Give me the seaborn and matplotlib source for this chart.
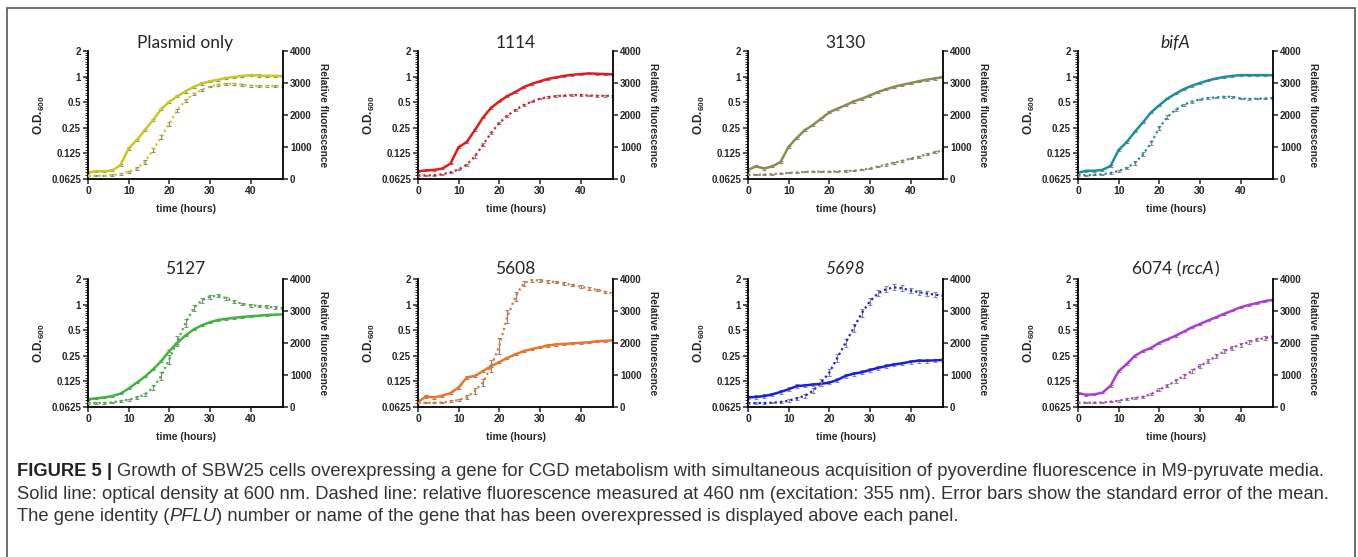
import numpy as np
import matplotlib
matplotlib.use('Agg')
import matplotlib.pyplot as plt
import matplotlib.ticker as mticker
from matplotlib.patches import Rectangle
import seaborn as sns

# time points (hours)
time_h = [0, 2, 4, 6, 8, 10, 12, 14, 16, 18, 20, 22, 24,
          26, 28, 30, 32, 34, 36, 38, 40, 42, 44, 46, 48]

# O.D.600 (solid lines) and relative fluorescence (dotted lines) per strain
od_plasmid = [0.075, 0.077, 0.077, 0.079, 0.091, 0.143, 0.179, 0.235, 0.308, 0.414, 0.504, 0.588, 0.67,
              0.757, 0.83, 0.88, 0.92, 0.965, 0.99, 1.02, 1.04, 1.03, 1.02, 1.02, 1.01]
fl_plasmid = [100, 100, 100, 125, 155, 230, 330, 540, 900, 1320, 1730, 2150, 2460,
              2660, 2790, 2890, 2950, 2975, 2975, 2950, 2920, 2900, 2900, 2900, 2910]
se_plasmid = [20, 20, 20, 20, 25, 30, 40, 60, 70, 70, 60, 50, 40,
              40, 30, 30, 30, 30, 30, 30, 30, 30, 30, 30, 30]

od_1114 = [0.077, 0.079, 0.080, 0.083, 0.095, 0.148, 0.17, 0.235, 0.33, 0.43, 0.51, 0.59, 0.66,
           0.75, 0.82, 0.88, 0.94, 0.98, 1.02, 1.05, 1.07, 1.09, 1.08, 1.07, 1.06]
fl_1114 = [120, 110, 120, 150, 210, 300, 450, 710, 1070, 1440, 1750, 1980, 2160,
           2310, 2420, 2510, 2560, 2590, 2610, 2620, 2620, 2610, 2600, 2600, 2600]
se_1114 = [15, 15, 15, 15, 20, 25, 30, 40, 40, 40, 35, 30, 30,
           25, 25, 25, 25, 25, 25, 25, 25, 25, 25, 25, 25]

od_3130 = [0.080, 0.088, 0.083, 0.088, 0.099, 0.150, 0.19, 0.235, 0.27, 0.32, 0.38, 0.42, 0.46,
           0.51, 0.55, 0.6, 0.66, 0.71, 0.76, 0.80, 0.84, 0.88, 0.92, 0.95, 0.99]
fl_3130 = [130, 130, 140, 150, 170, 190, 210, 220, 230, 230, 230, 240, 250,
           260, 290, 330, 390, 450, 510, 570, 640, 700, 770, 830, 900]
se_3130 = [15, 15, 15, 15, 15, 15, 15, 15, 15, 15, 15, 20, 20,
           20, 20, 25, 25, 30, 30, 30, 30, 30, 30, 30, 30]

od_bifa = [0.074, 0.078, 0.078, 0.08, 0.089, 0.137, 0.17, 0.225, 0.29, 0.38, 0.46, 0.55, 0.63,
           0.71, 0.78, 0.84, 0.90, 0.95, 0.99, 1.02, 1.04, 1.04, 1.04, 1.04, 1.04]
fl_bifa = [120, 120, 130, 150, 190, 250, 350, 500, 770, 1130, 1600, 1940, 2160,
           2320, 2420, 2490, 2530, 2550, 2570, 2570, 2520, 2500, 2510, 2520, 2530]
se_bifa = [15, 15, 15, 20, 20, 30, 40, 50, 60, 70, 60, 50, 40,
           30, 30, 25, 25, 25, 25, 25, 25, 25, 25, 25, 25]

od_5127 = [0.077, 0.079, 0.081, 0.084, 0.090, 0.103, 0.121, 0.142, 0.173, 0.216, 0.284, 0.355, 0.435,
           0.51, 0.57, 0.62, 0.66, 0.68, 0.70, 0.715, 0.73, 0.74, 0.755, 0.76, 0.77]
fl_5127 = [124, 124, 124, 145, 185, 230, 290, 390, 610, 970, 1490, 2060, 2625,
           3090, 3330, 3450, 3480, 3400, 3300, 3225, 3180, 3160, 3140, 3110, 3080]
se_5127 = [20, 20, 20, 20, 25, 30, 40, 60, 80, 120, 150, 150, 130,
           100, 70, 60, 50, 45, 40, 40, 40, 40, 40, 40, 40]

od_5608 = [0.072, 0.083, 0.081, 0.085, 0.091, 0.106, 0.139, 0.145, 0.165, 0.189, 0.21, 0.237, 0.26,
           0.284, 0.30, 0.315, 0.33, 0.34, 0.345, 0.35, 0.355, 0.36, 0.37, 0.375, 0.38]
fl_5608 = [134, 134, 134, 145, 175, 215, 300, 505, 765, 1280, 1900, 2830, 3450,
           3870, 3970, 3950, 3930, 3900, 3855, 3815, 3760, 3710, 3660, 3600, 3545]
se_5608 = [20, 20, 20, 20, 30, 40, 60, 100, 120, 200, 250, 200, 150,
           80, 50, 40, 40, 40, 40, 40, 40, 40, 40, 40, 40]

od_5698 = [0.081, 0.082, 0.084, 0.088, 0.094, 0.101, 0.110, 0.112, 0.115, 0.117, 0.121, 0.130, 0.145,
           0.154, 0.16, 0.17, 0.18, 0.189, 0.198, 0.204, 0.213, 0.219, 0.219, 0.221, 0.223]
fl_5698 = [124, 124, 124, 134, 155, 196, 270, 350, 505, 765, 1075, 1540, 2005,
           2470, 2935, 3300, 3555, 3680, 3740, 3710, 3640, 3590, 3545, 3515, 3470]
se_5698 = [20, 20, 20, 20, 30, 40, 50, 60, 80, 100, 120, 130, 130,
           120, 120, 110, 100, 100, 90, 90, 80, 80, 80, 80, 80]

od_6074 = [0.091, 0.087, 0.088, 0.092, 0.111, 0.165, 0.2, 0.25, 0.284, 0.31, 0.355, 0.39, 0.43,
           0.48, 0.54, 0.59, 0.65, 0.71, 0.78, 0.85, 0.93, 0.99, 1.04, 1.10, 1.14]
fl_6074 = [145, 134, 134, 145, 165, 196, 250, 280, 320, 400, 540, 660, 815,
           970, 1125, 1280, 1425, 1590, 1745, 1850, 1950, 2025, 2110, 2150, 2190]
se_6074 = [20, 20, 20, 20, 20, 25, 30, 30, 35, 40, 45, 50, 50,
           55, 55, 60, 60, 60, 60, 60, 60, 60, 60, 60, 60]

# relative standard error of O.D. readings, per strain
od_rel_se = [0.03, 0.02, 0.03, 0.02, 0.02, 0.03, 0.05, 0.02]

# panel titles: pieces of (text, italic)
titles = [
    [("Plasmid only", False)],
    [("1114", False)],
    [("3130", False)],
    [("bifA", True)],
    [("5127", False)],
    [("5608", False)],
    [("5698", True)],
    [("6074 (", False), ("rccA", True), (")", False)],
]
colors = ['#c9c81f', '#e8171c', '#8d8a52', '#1e8e9c',
          '#3cb73a', '#f07424', '#1a1ee0', '#b03ad6']

panels = list(zip(
    [od_plasmid, od_1114, od_3130, od_bifa, od_5127, od_5608, od_5698, od_6074],
    [fl_plasmid, fl_1114, fl_3130, fl_bifa, fl_5127, fl_5608, fl_5698, fl_6074],
    [se_plasmid, se_1114, se_3130, se_bifa, se_5127, se_5608, se_5698, se_6074],
    od_rel_se, titles, colors))

sns.set_style('ticks')
plt.rcParams['font.family'] = ['Liberation Sans', 'DejaVu Sans']
plt.rcParams['axes.linewidth'] = 1.3

W, H = 1358, 557
fig = plt.figure(figsize=(W / 100, H / 100), dpi=100)
renderer = fig.canvas.get_renderer()


def px_box(left, top, width, height):
    return [left / W, 1 - (top + height) / H, width / W, height / H]


def text_w(s, **kw):
    t = fig.text(0, 0, s, **kw)
    w = t.get_window_extent(renderer).width
    t.remove()
    return w


def draw_pieces(x, y, pieces, center=False):
    # pieces: (text, style dict, gap before)
    widths = []
    for s, kw, gap in pieces:
        g = (text_w('x x', **kw) - text_w('xx', **kw)) if gap else 0
        widths.append((g, text_w(s, **kw)))
    total = sum(g + w for g, w in widths)
    cx = x - total / 2 if center else x
    for (s, kw, gap), (g, w) in zip(pieces, widths):
        cx += g
        fig.text(cx / W, 1 - y / H, s, va='baseline', ha='left', **kw)
        cx += w


lefts = [88, 418, 748, 1078]
tops = [51, 279]
ax_w, ax_h = 195, 128

od_ticks = [0.0625, 0.125, 0.25, 0.5, 1, 2]
od_minor = [a * (1 + k / 10) for a in od_ticks[:-1] for k in range(1, 10)]

for i, (od, fl, se, od_se, title, col) in enumerate(panels):
    row, c = divmod(i, 4)
    ax = fig.add_axes(px_box(lefts[c], tops[row], ax_w, ax_h))
    ax2 = ax.twinx()

    # optical density, solid line
    od_arr = np.array(od)
    ax.errorbar(time_h, od, yerr=od_arr * od_se, fmt='none', ecolor='#8a8a8a',
                elinewidth=0.8, capsize=1.2, capthick=0.8, zorder=1)
    sns.lineplot(x=time_h, y=od, ax=ax, color=col, lw=1.8, zorder=2)
    ax.set_yscale('log', base=2)
    ax.set_ylim(0.0625, 2)
    ax.set_xlim(0, 48)
    ax.yaxis.set_major_locator(mticker.FixedLocator(od_ticks))
    ax.yaxis.set_major_formatter(mticker.FixedFormatter(['0.0625', '0.125', '0.25', '0.5', '1', '2']))
    ax.yaxis.set_minor_locator(mticker.FixedLocator(od_minor))
    ax.yaxis.set_minor_formatter(mticker.NullFormatter())
    ax.set_xticks([0, 10, 20, 30, 40])

    # fluorescence, dotted line with error bars
    ax2.errorbar(time_h, fl, yerr=se, fmt='none', ecolor='#8a8a8a',
                 elinewidth=0.9, capsize=1.2, capthick=0.8, zorder=1)
    sns.lineplot(x=time_h, y=fl, ax=ax2, color=col, lw=1.6,
                 linestyle=(0, (1, 1.4)), zorder=2)
    ax2.set_ylim(0, 4000)
    ax2.set_yticks([0, 1000, 2000, 3000, 4000])

    for a in (ax, ax2):
        a.spines['top'].set_visible(False)
        for sp in ('left', 'right', 'bottom'):
            a.spines[sp].set_linewidth(1.3)
            a.spines[sp].set_color('black')
        a.tick_params(which='major', length=3.5, width=1.1, labelsize=7, pad=1.5)
        a.tick_params(which='minor', length=2, width=0.7)
        for lab in a.get_xticklabels() + a.get_yticklabels():
            lab.set_fontweight('bold')
    ax.tick_params(axis='x', labelsize=7.5)
    ax.spines['right'].set_visible(False)
    ax2.spines['left'].set_visible(False)
    ax2.spines['bottom'].set_visible(False)

    ax.set_ylabel(r'O.D.$_{\mathregular{600}}$', fontsize=8.5, fontweight='bold')
    ax.yaxis.set_label_coords(-0.21, 0.5)
    ax.set_xlabel('time (hours)', fontsize=7.5, fontweight='bold')
    ax.xaxis.set_label_coords(0.5, -0.195)
    ax2.set_ylabel('Relative fluorescence', fontsize=7.3, fontweight='bold', rotation=270,
                   va='center')
    ax2.yaxis.set_label_coords(1.205, 0.5)

    title_y = [48, 274][row]
    draw_pieces(lefts[c] + ax_w / 2, title_y,
                [(s, dict(fontsize=12.5, family=['Lato', 'DejaVu Sans'],
                          style='italic' if it else 'normal'), False)
                 for s, it in title], center=True)

# caption
cap_font = ['Liberation Sans', 'DejaVu Sans']
norm = dict(fontsize=13.2, family=cap_font, color='#333333')
bold = dict(fontsize=13.2, family=cap_font, color='#222222', fontweight='bold')
ital = dict(fontsize=13.2, family=cap_font, color='#333333', style='italic')
draw_pieces(17, 476, [
    ("FIGURE 5", bold, False), ("|", bold, True),
    ("Growth of SBW25 cells overexpressing a gene for CGD metabolism with simultaneous "
     "acquisition of pyoverdine fluorescence in M9-pyruvate media.", norm, True)])
draw_pieces(17, 499, [
    ("Solid line: optical density at 600 nm. Dashed line: relative fluorescence measured at "
     "460 nm (excitation: 355 nm). Error bars show the standard error of the mean.", norm, False)])
draw_pieces(17, 521, [
    ("The gene identity (", norm, False), ("PFLU", ital, False),
    (") number or name of the gene that has been overexpressed is displayed above each panel.",
     norm, False)])

# frame around the figure
fig.patches.append(Rectangle((7 / W, -0.02), 1348 / W, 1 - 8 / H + 0.02,
                             transform=fig.transFigure, fill=False,
                             edgecolor='#555555', lw=1.2))

fig.savefig('out.png', dpi=100)
